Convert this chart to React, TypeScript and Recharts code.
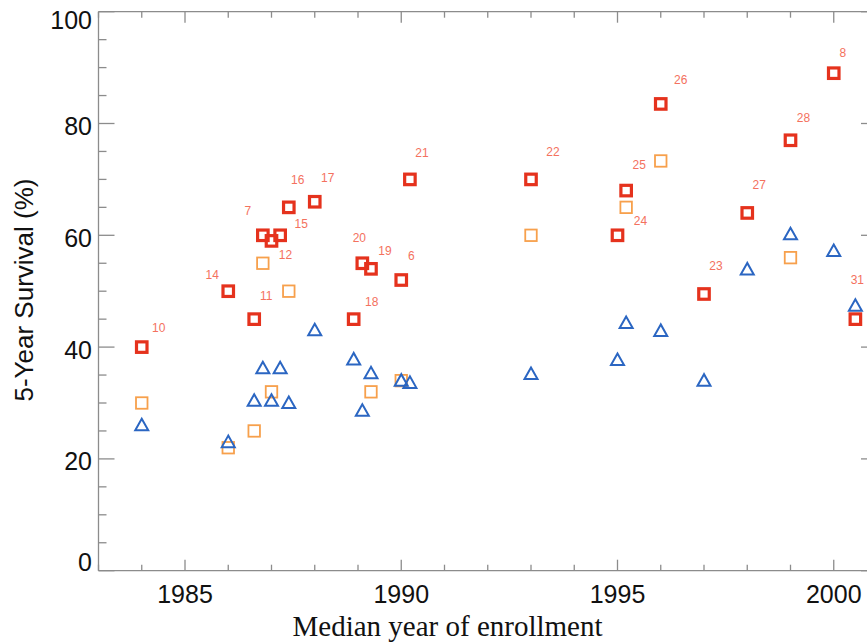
import React from 'react';
import { ScatterChart, Scatter, XAxis, YAxis, ReferenceLine } from 'recharts';

// ---- data ----
const redYears = [1984, 1986, 1986.6, 1986.8, 1987.0, 1987.2, 1987.4, 1988.0, 1988.9, 1989.1, 1989.3, 1990.0, 1990.2, 1993.0, 1995.0, 1995.2, 1996.0, 1997.0, 1998.0, 1999.0, 2000.0, 2000.5];
const redValues = [40, 50, 45, 60, 59, 60, 65, 66, 45, 55, 54, 52, 70, 70, 60, 68, 83.5, 49.5, 64, 77, 89, 45];
const redLabels = ['10', '14', '11', '7', '12', '15', '16', '17', '18', '20', '19', '6', '21', '22', '24', '25', '26', '23', '27', '28', '8', '31'];

const orangeYears = [1984, 1986, 1986.6, 1986.8, 1987.0, 1987.4, 1989.3, 1990.0, 1993.0, 1995.2, 1996.0, 1999.0];
const orangeValues = [30, 22, 25, 55, 32, 50, 32, 34, 60, 65, 73.3, 56];

const blueYears = [1984, 1986, 1986.6, 1986.8, 1987.0, 1987.2, 1987.4, 1988.0, 1988.9, 1989.1, 1989.3, 1990.0, 1990.2, 1993.0, 1995.0, 1995.2, 1996.0, 1997.0, 1998.0, 1999.0, 2000.0, 2000.5];
const blueValues = [26, 23, 30.4, 36.2, 30.4, 36.2, 30, 43, 37.8, 28.6, 35.3, 34, 33.6, 35.2, 37.7, 44.3, 42.9, 34, 53.9, 60.2, 57.2, 47.4];

const xTicks = [1983, 1984, 1985, 1986, 1987, 1988, 1989, 1990, 1991, 1992, 1993, 1994, 1995, 1996, 1997, 1998, 1999, 2000, 2001];
const yTicks = [0, 5, 10, 15, 20, 25, 30, 35, 40, 45, 50, 55, 60, 65, 70, 75, 80, 85, 90, 95, 100];

// label placement (pixel offsets from each marked point), keyed by label
const labelOffsets: Record<string, [number, number]> = {
  '10': [17, -19], '14': [-16, -16], '11': [12, -23], '7': [-15, -24], '12': [14, 14],
  '15': [21, -11], '16': [9, -27], '17': [13, -24], '18': [18, -17], '20': [-3, -25],
  '19': [14, -18], '6': [10, -24], '21': [12, -26], '22': [22, -27], '24': [23, -14],
  '25': [13, -26], '26': [20, -24], '23': [12, -28], '27': [12, -28], '28': [13, -22],
  '8': [9, -20], '31': [2, -39],
};

const redData = redYears.map((x, i) => ({ x, y: redValues[i], label: redLabels[i] }));
const orangeData = orangeYears.map((x, i) => ({ x, y: orangeValues[i] }));
const blueData = blueYears.map((x, i) => ({ x, y: blueValues[i] }));

// ---- style ----
const AX = '#8c8c8c';
const PLOT_W = 778.5;
const PLOT_H = 559;
const SANS = '"Liberation Sans", Arial, Helvetica, sans-serif';
const SERIF = '"Liberation Serif", "Times New Roman", serif';
const RED = '#e5321d';
const ORANGE = '#f7a04c';
const BLUE = '#2b66c2';
const LABEL = '#f4715e';

function XTick(props: any) {
  const { x, y, payload } = props;
  const v = payload.value;
  const major = v % 5 === 0;
  const len = major ? 11 : 6;
  return (
    <g>
      <line x1={x} y1={y} x2={x} y2={y - len} stroke={AX} strokeWidth={1.3} />
      <line x1={x} y1={y - PLOT_H} x2={x} y2={y - PLOT_H + len} stroke={AX} strokeWidth={1.3} />
      {major && (
        <text x={x} y={y + 32.6} textAnchor="middle" fontSize={25} fontFamily={SANS} fill="#111">
          {v}
        </text>
      )}
    </g>
  );
}

function YTick(props: any) {
  const { x, y, payload } = props;
  const v = payload.value;
  const major = v % 20 === 0;
  const len = major ? 16 : 8;
  let base = y + 11.5;
  if (v === 0) base = y;
  if (v === 100) base = y + 17.2;
  return (
    <g>
      <line x1={x} y1={y} x2={x + len} y2={y} stroke={AX} strokeWidth={1.3} />
      <line x1={x + PLOT_W} y1={y} x2={x + PLOT_W - len} y2={y} stroke={AX} strokeWidth={1.3} />
      {major && (
        <text x={x - 6.5} y={base} textAnchor="end" fontSize={25} fontFamily={SANS} fill="#111">
          {v}
        </text>
      )}
    </g>
  );
}

function RedShape(props: any) {
  const { cx, cy, payload } = props;
  const s = 10.5;
  const off = labelOffsets[payload.label] || [12, -22];
  return (
    <g>
      <rect x={cx - s / 2} y={cy - s / 2} width={s} height={s} fill="none" stroke={RED} strokeWidth={3.2} />
      <text x={cx + off[0]} y={cy + off[1]} textAnchor="middle" dominantBaseline="central" fontSize={12} fontFamily={SANS} fill={LABEL}>
        {payload.label}
      </text>
    </g>
  );
}

function OrangeShape(props: any) {
  const { cx, cy } = props;
  const s = 11.5;
  return <rect x={cx - s / 2} y={cy - s / 2} width={s} height={s} fill="none" stroke={ORANGE} strokeWidth={1.8} />;
}

function BlueShape(props: any) {
  const { cx, cy } = props;
  const pts = `${cx},${cy - 6.5} ${cx - 6.5},${cy + 5} ${cx + 6.5},${cy + 5}`;
  return <polygon points={pts} fill="none" stroke={BLUE} strokeWidth={2} strokeLinejoin="miter" />;
}

export default function App() {
  return (
    <div style={{ position: 'absolute', left: 0, top: 0, width: 867, height: 642, overflow: 'hidden', background: '#fff' }}>
      <div style={{ position: 'absolute', left: 8, top: 0 }}>
        <ScatterChart width={900} height={642} margin={{ top: 11.7, right: 31, bottom: 0, left: 0 }}>
          <XAxis
            type="number"
            dataKey="x"
            domain={[1983, 2001]}
            ticks={xTicks}
            interval={0}
            tick={<XTick />}
            tickLine={false}
            tickSize={0}
            tickMargin={0}
            height={71.3}
            axisLine={{ stroke: AX, strokeWidth: 1.3 }}
            allowDataOverflow
            label={{
              content: () => (
                <text x={439.5} y={635.7} textAnchor="middle" fontSize={29} fontFamily={SERIF} fill="#111">
                  Median year of enrollment
                </text>
              ),
            }}
          />
          <YAxis
            type="number"
            dataKey="y"
            domain={[0, 100]}
            ticks={yTicks}
            interval={0}
            tick={<YTick />}
            tickLine={false}
            tickSize={0}
            tickMargin={0}
            width={90.5}
            axisLine={{ stroke: AX, strokeWidth: 1.3 }}
            allowDataOverflow
            label={{
              content: () => (
                <text x={24.6} y={290} transform="rotate(-90 24.6 290)" textAnchor="middle" fontSize={26} fontFamily={SANS} fill="#111">
                  5-Year Survival (%)
                </text>
              ),
            }}
          />
          <ReferenceLine y={100} stroke={AX} strokeWidth={1.3} ifOverflow="visible" />
          <ReferenceLine x={2001} stroke={AX} strokeWidth={1.3} ifOverflow="visible" />
          <Scatter data={orangeData} shape={<OrangeShape />} isAnimationActive={false} />
          <Scatter data={blueData} shape={<BlueShape />} isAnimationActive={false} />
          <Scatter data={redData} shape={<RedShape />} isAnimationActive={false} />
        </ScatterChart>
      </div>
    </div>
  );
}
